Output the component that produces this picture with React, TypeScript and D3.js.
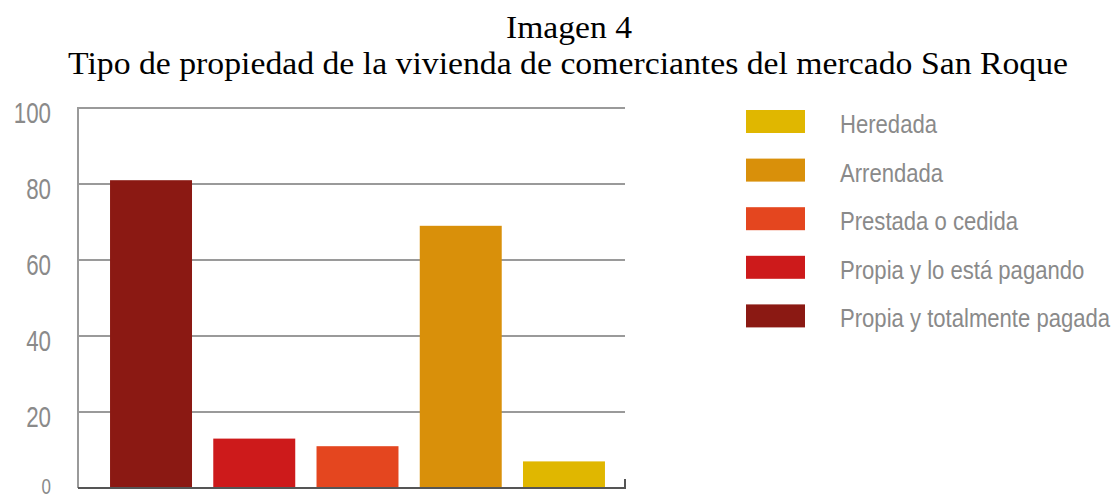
import React from "react";
import * as d3 from "d3";

const categories = [
  "Propia y totalmente pagada",
  "Propia y lo está pagando",
  "Prestada o cedida",
  "Arrendada",
  "Heredada",
];
const values = [81, 13, 11, 69, 7];
const colors = ["#8b1913", "#cd1a1b", "#e4461f", "#d9900a", "#e0b700"];
const yTicks = [0, 20, 40, 60, 80, 100];
const legendOrder = ["Heredada", "Arrendada", "Prestada o cedida", "Propia y lo está pagando", "Propia y totalmente pagada"];
const title1 = "Imagen 4";
const title2 = "Tipo de propiedad de la vivienda de comerciantes del mercado San Roque";

export default function App() {
  const W = 1117, H = 500;
  const axisL = 78, axisR = 625;
  const y = d3.scaleLinear().domain([0, 100]).range([488, 108]);
  const x = d3.scaleBand<string>().domain(categories).range([99.4, 615.6]).paddingInner(0.206).paddingOuter(0.103);
  const colorOf = d3.scaleOrdinal<string, string>().domain(categories).range(colors);
  const legendY = d3.scaleBand<string>().domain(legendOrder).range([98, 341]);
  const sans = "'Liberation Sans', Arial, sans-serif";
  const serif = "'Liberation Serif', serif";
  return (
    <svg width={W} height={H} style={{ position: "absolute", left: 0, top: 0, background: "#fff" }}>
      <text x={569} y={38} textAnchor="middle" fontFamily={serif} fontSize={31} fill="#000" textLength={126} lengthAdjust="spacingAndGlyphs">{title1}</text>
      <text x={568} y={74} textAnchor="middle" fontFamily={serif} fontSize={31} fill="#000" textLength={1000} lengthAdjust="spacingAndGlyphs">{title2}</text>
      {yTicks.filter(t => t > 0).map(t => (
        <line key={"g" + t} x1={axisL} x2={axisR} y1={y(t)} y2={y(t)} stroke="#9a9a9a" strokeWidth={2} />
      ))}
      <line x1={axisL} x2={axisL} y1={y(100) - 1} y2={y(0)} stroke="#9a9a9a" strokeWidth={2} />
      {categories.map((c, i) => (
        <rect key={c} x={x(c)} width={x.bandwidth()} y={y(values[i])} height={y(0) - y(values[i])} fill={colorOf(c)} />
      ))}
      <line x1={axisL} x2={axisR + 1} y1={y(0)} y2={y(0)} stroke="#555" strokeWidth={2} />
      <line x1={axisR} x2={axisR} y1={y(0)} y2={y(0) - 9} stroke="#555" strokeWidth={2} />
      {yTicks.filter(t => t > 0).map(t => (
        <g key={"t" + t} transform={`translate(51,${y(t) + 15}) scale(0.77,1)`}>
          <text x={0} y={0} textAnchor="end" fontFamily={sans} fontSize={29} fill="#8a8a8a">{t}</text>
        </g>
      ))}
      <g transform={`translate(51,494) scale(0.77,1)`}>
        <text x={0} y={0} textAnchor="end" fontFamily={sans} fontSize={22} fill="#8a8a8a">{yTicks[0]}</text>
      </g>
      {legendOrder.map(c => (
        <g key={"l" + c} transform={`translate(0,${legendY(c)})`}>
          <rect x={746} y={12} width={59} height={23} fill={colorOf(c)} />
          <g transform="translate(840,35) scale(0.85,1)">
            <text x={0} y={0} fontFamily={sans} fontSize={26} fill="#8a8a8a">{c}</text>
          </g>
        </g>
      ))}
    </svg>
  );
}
